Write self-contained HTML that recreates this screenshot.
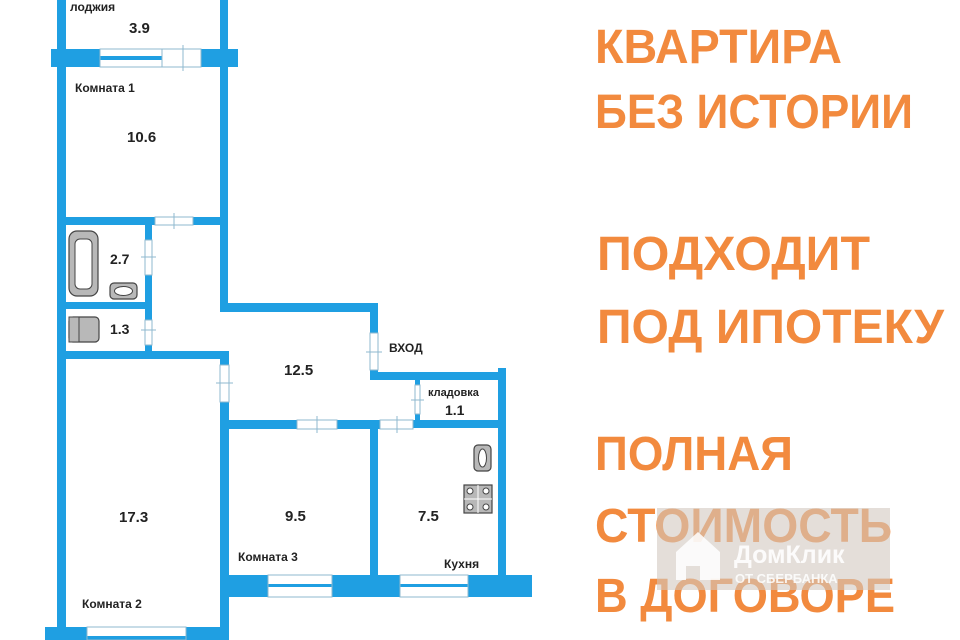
<!DOCTYPE html>
<html><head><meta charset="utf-8"><style>
html,body{margin:0;padding:0;background:#fff;width:960px;height:640px;overflow:hidden}
svg{display:block}
</style></head><body>
<svg width="960" height="640" viewBox="0 0 960 640" xmlns="http://www.w3.org/2000/svg" font-family="Liberation Sans, sans-serif">
<g fill="#1f9fe2">
<rect x="57" y="0" width="9" height="60"/>
<rect x="220" y="0" width="8" height="60"/>
<rect x="51" y="49" width="49" height="18"/>
<rect x="201" y="49" width="37" height="18"/>
<rect x="100" y="56" width="62" height="4"/>
<rect x="57" y="49" width="9" height="591"/>
<rect x="220" y="49" width="8" height="263"/>
<rect x="57" y="217" width="98" height="8"/>
<rect x="193" y="217" width="35" height="8"/>
<rect x="145" y="225" width="7" height="15"/>
<rect x="145" y="275" width="7" height="45"/>
<rect x="145" y="345" width="7" height="14"/>
<rect x="57" y="302" width="95" height="7"/>
<rect x="57" y="351" width="172" height="8"/>
<rect x="220" y="303" width="158" height="9"/>
<rect x="370" y="303" width="8" height="30"/>
<rect x="370" y="370" width="8" height="10"/>
<rect x="370" y="372" width="136" height="8"/>
<rect x="498" y="368" width="8" height="208"/>
<rect x="415" y="380" width="5" height="5"/>
<rect x="415" y="414" width="5" height="8"/>
<rect x="413" y="420" width="93" height="8"/>
<rect x="229" y="420" width="68" height="9"/>
<rect x="337" y="420" width="43" height="9"/>
<rect x="220" y="359" width="9" height="6"/>
<rect x="220" y="402" width="9" height="238"/>
<rect x="370" y="428" width="8" height="148"/>
<rect x="229" y="575" width="39" height="22"/>
<rect x="332" y="575" width="68" height="22"/>
<rect x="468" y="575" width="64" height="22"/>
<rect x="268" y="584" width="64" height="3"/>
<rect x="400" y="584" width="68" height="3"/>
<rect x="45" y="627" width="42" height="13"/>
<rect x="186" y="627" width="43" height="13"/>
<rect x="87" y="636" width="99" height="4"/>
</g>
<g stroke="#8fb8cf" stroke-width="1" fill="none">
<rect x="100" y="49" width="101" height="18"/>
<line x1="162" y1="49" x2="162" y2="67"/><line x1="183" y1="45" x2="183" y2="71"/>
<rect x="155" y="217" width="38" height="8"/><line x1="174" y1="213" x2="174" y2="229"/>
<rect x="145" y="240" width="7" height="35"/><line x1="141" y1="257" x2="156" y2="257"/>
<rect x="145" y="320" width="7" height="25"/><line x1="141" y1="330" x2="156" y2="330"/>
<rect x="220" y="365" width="9" height="37"/><line x1="216" y1="383" x2="233" y2="383"/>
<rect x="370" y="333" width="8" height="37"/><line x1="366" y1="352" x2="382" y2="352"/>
<rect x="415" y="385" width="5" height="29"/><line x1="411" y1="400" x2="424" y2="400"/>
<rect x="297" y="420" width="40" height="9"/><line x1="317" y1="416" x2="317" y2="433"/>
<rect x="380" y="420" width="33" height="9"/><line x1="397" y1="416" x2="397" y2="433"/>
<rect x="268" y="575" width="64" height="22"/>
<rect x="400" y="575" width="68" height="22"/>
<rect x="87" y="627" width="99" height="13"/>
</g>
<g fill="#b8b8b8" stroke="#444" stroke-width="1.2">
<rect x="69" y="231" width="29" height="65" rx="8"/>
<rect x="110" y="283" width="27" height="16" rx="4"/>
<rect x="69" y="317" width="30" height="25" rx="4"/>
<rect x="474" y="445" width="17" height="26" rx="4"/>
<rect x="464" y="485" width="28" height="28"/>
</g>
<g fill="#fff" stroke="#444" stroke-width="1">
<rect x="75" y="239" width="17" height="50" rx="5"/>
<ellipse cx="123.5" cy="291" rx="9" ry="4.5"/>
<ellipse cx="482.5" cy="458" rx="4" ry="9"/>
<circle cx="470" cy="491" r="3"/><circle cx="486" cy="491" r="3"/>
<circle cx="470" cy="507" r="3"/><circle cx="486" cy="507" r="3"/>
</g>
<line x1="464" y1="499" x2="492" y2="499" stroke="#fff"/><line x1="478" y1="485" x2="478" y2="513" stroke="#fff"/>
<rect x="69" y="317" width="10" height="25" fill="#b8b8b8" stroke="#444"/>
<g font-weight="bold" fill="#222">
<text x="70" y="11" font-size="12">лоджия</text>
<text x="129" y="33" font-size="15">3.9</text>
<text x="75" y="92" font-size="12">Комната 1</text>
<text x="127" y="142" font-size="15">10.6</text>
<text x="110" y="264" font-size="14">2.7</text>
<text x="110" y="334" font-size="14">1.3</text>
<text x="389" y="352" font-size="12">ВХОД</text>
<text x="284" y="375" font-size="15">12.5</text>
<text x="428" y="396" font-size="11">кладовка</text>
<text x="445" y="415" font-size="14">1.1</text>
<text x="119" y="522" font-size="15">17.3</text>
<text x="285" y="521" font-size="15">9.5</text>
<text x="418" y="521" font-size="15">7.5</text>
<text x="238" y="561" font-size="12">Комната 3</text>
<text x="444" y="568" font-size="12">Кухня</text>
<text x="82" y="608" font-size="12">Комната 2</text>
</g>
<g font-weight="bold" fill="#f28a3e" font-size="48">
<text x="595" y="63" textLength="247" lengthAdjust="spacingAndGlyphs">КВАРТИРА</text>
<text x="595" y="128" textLength="318" lengthAdjust="spacingAndGlyphs">БЕЗ ИСТОРИИ</text>
<text x="597" y="270" textLength="273" lengthAdjust="spacingAndGlyphs">ПОДХОДИТ</text>
<text x="597" y="343" textLength="347" lengthAdjust="spacingAndGlyphs">ПОД ИПОТЕКУ</text>
<text x="595" y="470" textLength="198" lengthAdjust="spacingAndGlyphs">ПОЛНАЯ</text>
<text x="595" y="542" textLength="297" lengthAdjust="spacingAndGlyphs">СТОИМОСТЬ</text>
<text x="595" y="612" textLength="300" lengthAdjust="spacingAndGlyphs">В ДОГОВОРЕ</text>
</g>
<rect x="657" y="508" width="233" height="82" fill="#d2c8c0" opacity="0.6"/>
<path d="M676 552 L698 532 L720 552 L720 580 L700 580 L700 566 L686 566 L686 580 L676 580 Z" fill="#fff" opacity="0.85"/>
<text x="734" y="563" font-size="25" font-weight="bold" fill="#fff" opacity="0.9">ДомКлик</text>
<text x="735" y="583" font-size="13" font-weight="bold" fill="#fff" opacity="0.85">ОТ СБЕРБАНКА</text>
</svg>
</body></html>
